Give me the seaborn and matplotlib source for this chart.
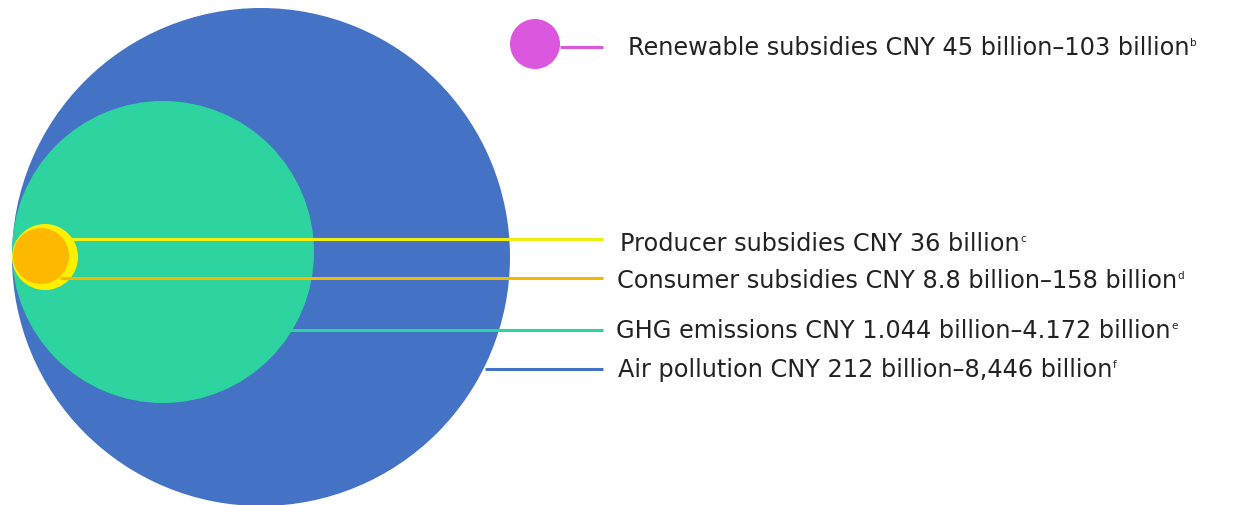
import matplotlib
matplotlib.use("Agg")
import matplotlib.pyplot as plt
from matplotlib.patches import Circle
import seaborn as sns

# ---- data ----
labels = [
    "Air pollution CNY 212 billion\u20138,446 billion",
    "GHG emissions CNY 1.044 billion\u20134.172 billion",
    "Consumer subsidies CNY 8.8 billion\u2013158 billion",
    "Producer subsidies CNY 36 billion",
    "Renewable subsidies CNY 45 billion\u2013103 billion",
]
notes = ["f", "e", "d", "c", "b"]
radii = [249, 151, 28, 33, 25]          # relative circle size (px)
colors = ["#4472C4", "#2DD4A0", "#FFB800", "#FFF000", "#DB57DE"]

# ---- layout (pixel space) ----
centers = [(261, 258), (163, 253), (41, 257), (45, 258), (535, 45)]
line_y = [370, 331, 279, 240, 48]
line_x0 = [485, 290, 60, 70, 560]
line_x1 = 603
text_x = [618, 616, 617, 620, 628]
text_y = [370, 331, 281, 244, 48]

sns.set_theme(style="white")
plt.rcParams["font.family"] = ["DejaVu Sans"]

fig = plt.figure(figsize=(12.42, 5.06), dpi=100)
ax = fig.add_axes([0, 0, 1, 1])
ax.set_xlim(0, 1242)
ax.set_ylim(506, 0)
ax.set_aspect("equal")
ax.axis("off")

# draw order: blue, green, yellow, orange, magenta
order = [0, 1, 3, 2, 4]
for i in order:
    ax.add_patch(Circle(centers[i], radii[i], color=colors[i], lw=0, zorder=1 + order.index(i)))

line_colors = ["#4472C4", "#2DD4A0", "#F5B800", "#F2EE10", "#DB57DE"]
for i in range(5):
    ax.plot([line_x0[i], line_x1], [line_y[i], line_y[i]], color=line_colors[i], lw=2.2, zorder=10,
            solid_capstyle="butt")
    t = ax.text(text_x[i], text_y[i], labels[i], fontsize=17.3, color="#222222", va="center", ha="left")
    ax.annotate(notes[i], xy=(1, 0.92), xycoords=t, fontsize=7.5, color="#222222",
                va="top", ha="left", xytext=(0.5, 0), textcoords="offset points")

fig.savefig("out.png", dpi=100)
